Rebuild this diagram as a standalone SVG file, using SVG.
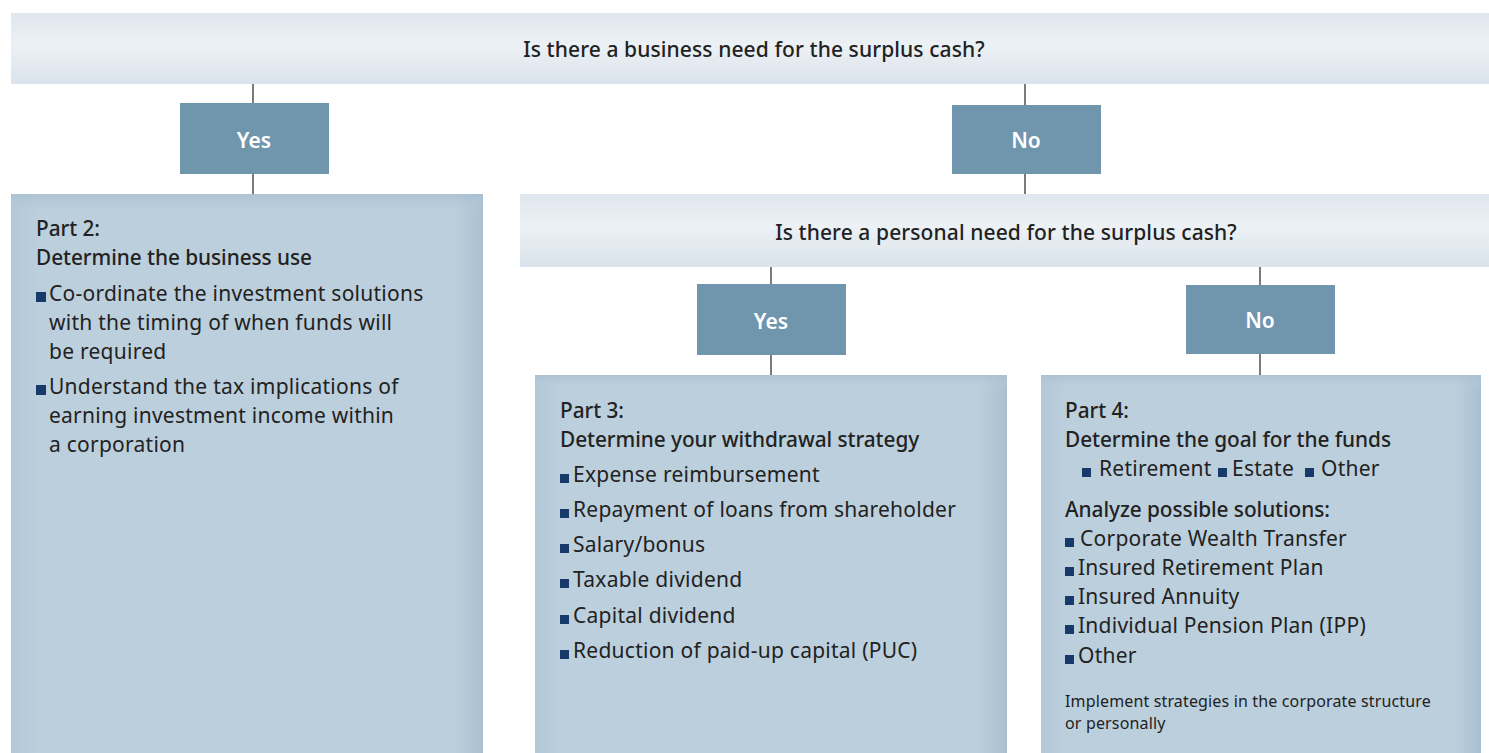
<svg xmlns="http://www.w3.org/2000/svg" width="1489" height="753" viewBox="0 0 1489 753">
<defs>
<linearGradient id="banV" x1="0" y1="0" x2="0" y2="1">
<stop offset="0" stop-color="#dfe7ee"/><stop offset="0.45" stop-color="#ecf1f5"/><stop offset="1" stop-color="#dae3eb"/>
</linearGradient>
<linearGradient id="partH" x1="0" y1="0" x2="1" y2="0">
<stop offset="0" stop-color="#b3c8d8"/><stop offset="0.06" stop-color="#bccfdd"/><stop offset="0.94" stop-color="#bccfdd"/><stop offset="1" stop-color="#a9bfd0"/>
</linearGradient>
<linearGradient id="partV" x1="0" y1="0" x2="0" y2="1">
<stop offset="0" stop-color="#a9bfd0" stop-opacity="0.8"/><stop offset="0.04" stop-color="#bccfdd" stop-opacity="0"/><stop offset="1" stop-color="#bccfdd" stop-opacity="0"/>
</linearGradient>
</defs>
<style>
.ban{fill:url(#banV)}
.dec{fill:#7096ae}
.part{fill:url(#partH)}
.partv{fill:url(#partV)}
.conn line{stroke:#333;stroke-width:1.3}
text{font-family:"Noto Sans","Open Sans","Liberation Sans",sans-serif;fill:#222}
.q{font-size:21px;font-weight:500;text-anchor:middle;letter-spacing:0.1px}
.yn{font-size:21px;font-weight:600;fill:#fff;text-anchor:middle}
.h{font-size:20.8px;font-weight:500;letter-spacing:-0.05px}
.t{font-size:21px;letter-spacing:0.25px}
.s{font-size:16px;letter-spacing:0.15px}
.b{fill:#173a6b}
</style>
<g id="connectors" class="conn">
<line x1="253" y1="84" x2="253" y2="103"/>
<line x1="253" y1="174" x2="253" y2="194"/>
<line x1="1025" y1="84" x2="1025" y2="105"/>
<line x1="1025" y1="174" x2="1025" y2="194"/>
<line x1="771" y1="267" x2="771" y2="284"/>
<line x1="771" y1="355" x2="771" y2="375"/>
<line x1="1260" y1="267" x2="1260" y2="285"/>
<line x1="1260" y1="354" x2="1260" y2="375"/>
</g>
<g id="q1">
<rect class="ban" x="11" y="13" width="1478" height="71"/>
<text class="q" x="754" y="57">Is there a business need for the surplus cash?</text>
</g>
<g id="yes1">
<rect class="dec" x="180" y="103" width="149" height="71"/>
<text class="yn" x="254" y="148">Yes</text>
</g>
<g id="no1">
<rect class="dec" x="952" y="105" width="149" height="69"/>
<text class="yn" x="1026" y="148">No</text>
</g>
<g id="part2">
<rect class="part" x="11" y="194" width="472" height="559"/>
<rect class="partv" x="11" y="194" width="472" height="559"/>
<text class="h" x="36" y="236">Part 2:</text>
<text class="h" x="36" y="265">Determine the business use</text>
<rect class="b" x="36" y="292" width="10" height="10"/>
<text class="t" x="49" y="301">Co-ordinate the investment solutions</text>
<text class="t" x="49" y="330">with the timing of when funds will</text>
<text class="t" x="49" y="359">be required</text>
<rect class="b" x="36" y="385" width="10" height="10"/>
<text class="t" x="49" y="394">Understand the tax implications of</text>
<text class="t" x="49" y="423">earning investment income within</text>
<text class="t" x="49" y="452">a corporation</text>
</g>
<g id="q2">
<rect class="ban" x="520" y="194" width="969" height="73"/>
<text class="q" x="1006" y="240">Is there a personal need for the surplus cash?</text>
</g>
<g id="yes2">
<rect class="dec" x="697" y="284" width="149" height="71"/>
<text class="yn" x="771" y="329">Yes</text>
</g>
<g id="no2">
<rect class="dec" x="1186" y="285" width="149" height="69"/>
<text class="yn" x="1260" y="328">No</text>
</g>
<g id="part3">
<rect class="part" x="535" y="375" width="472" height="378"/>
<rect class="partv" x="535" y="375" width="472" height="378"/>
<text class="h" x="560" y="418">Part 3:</text>
<text class="h" x="560" y="447">Determine your withdrawal strategy</text>
<rect class="b" x="560" y="474" width="9" height="9"/>
<text class="t" x="573" y="482">Expense reimbursement</text>
<rect class="b" x="560" y="509" width="9" height="9"/>
<text class="t" x="573" y="517">Repayment of loans from shareholder</text>
<rect class="b" x="560" y="544" width="9" height="9"/>
<text class="t" x="573" y="552">Salary/bonus</text>
<rect class="b" x="560" y="579" width="9" height="9"/>
<text class="t" x="573" y="587">Taxable dividend</text>
<rect class="b" x="560" y="615" width="9" height="9"/>
<text class="t" x="573" y="623">Capital dividend</text>
<rect class="b" x="560" y="650" width="9" height="9"/>
<text class="t" x="573" y="658">Reduction of paid-up capital (PUC)</text>
</g>
<g id="part4">
<rect class="part" x="1041" y="375" width="440" height="378"/>
<rect class="partv" x="1041" y="375" width="440" height="378"/>
<text class="h" x="1065" y="418">Part 4:</text>
<text class="h" x="1065" y="447">Determine the goal for the funds</text>
<rect class="b" x="1082" y="468" width="9" height="9"/>
<text class="t" x="1099" y="476">Retirement</text>
<rect class="b" x="1218" y="468" width="9" height="9"/>
<text class="t" x="1232" y="476">Estate</text>
<rect class="b" x="1305" y="468" width="9" height="9"/>
<text class="t" x="1321" y="476">Other</text>
<text class="h" x="1065" y="517">Analyze possible solutions:</text>
<rect class="b" x="1065" y="538" width="9" height="9"/>
<text class="t" x="1080" y="546">Corporate Wealth Transfer</text>
<rect class="b" x="1065" y="567" width="9" height="9"/>
<text class="t" x="1078" y="575">Insured Retirement Plan</text>
<rect class="b" x="1065" y="596" width="9" height="9"/>
<text class="t" x="1078" y="604">Insured Annuity</text>
<rect class="b" x="1065" y="625" width="9" height="9"/>
<text class="t" x="1078" y="633">Individual Pension Plan (IPP)</text>
<rect class="b" x="1065" y="655" width="9" height="9"/>
<text class="t" x="1078" y="663">Other</text>
<text class="s" x="1065" y="707">Implement strategies in the corporate structure</text>
<text class="s" x="1065" y="729">or personally</text>
</g>
</svg>
